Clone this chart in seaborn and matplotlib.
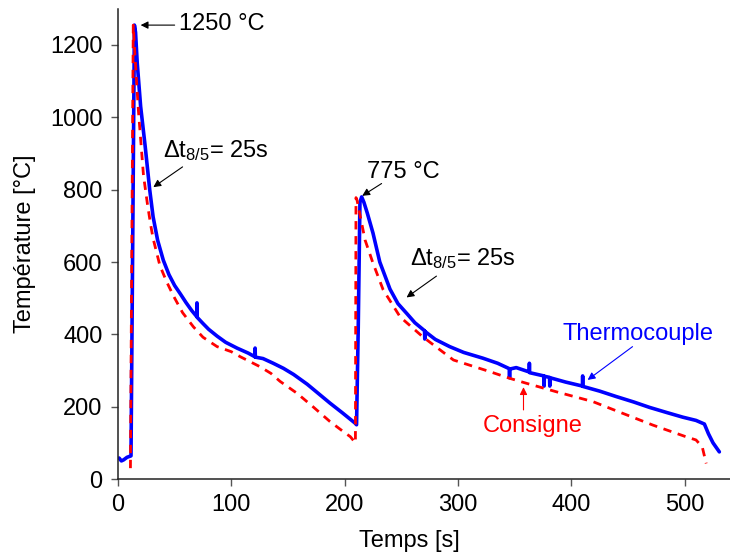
import matplotlib
matplotlib.use("Agg")
import matplotlib.pyplot as plt
import seaborn as sns
import pandas as pd

# ---- data ----
tc_time = [1, 3, 5, 8, 11.5, 13, 14.5, 15.5, 17, 20, 24, 28, 31, 35, 40, 45, 50, 55, 60, 65,
           69.5, 69.7, 69.9, 75, 80, 87.5, 95, 105, 115, 120.8, 121, 121.2, 128, 137, 146, 155,
           167, 177, 187, 198, 209, 210.5, 212, 213.5, 215, 217, 220, 225, 231, 240, 247, 255,
           262, 270.5, 270.7, 270.9, 280, 292.7, 305, 322, 335, 345.3, 345.5, 345.7, 351.4,
           362.8, 363, 363.2, 375.8, 376, 376.2, 380.8, 381, 381.2, 395, 409.8, 410, 410.2,
           425, 439.6, 455, 469, 484, 498.3, 510, 517.4, 521, 525, 530.6]
tc_temp = [58, 50, 53, 60, 64, 650, 1255, 1235, 1150, 1030, 920, 800, 725, 660, 605, 565, 535, 512, 488, 466,
           449, 487, 447, 430, 414, 395, 378, 362, 348, 338, 362, 337, 333, 320, 306, 289,
           262, 236, 210, 183, 155, 150, 420, 765, 780, 765, 735, 680, 600, 525, 485, 457,
           432, 410, 387, 408, 386, 366, 350, 334, 320, 305, 280, 304, 308,
           296, 320, 294, 285, 257, 284, 281, 257, 280, 268, 257, 285, 256,
           243, 228, 213, 198, 184, 171, 162, 152, 125, 100, 75]

cons_time = [11, 12.2, 13.5, 15, 18, 22.5, 26, 29, 31, 37, 43, 49, 57, 66.5, 75, 87.5, 100, 108,
             125, 135, 143, 158, 172, 187, 198, 205, 209.5, 210, 211, 218, 225, 234, 249, 269,
             296, 328, 345, 360, 387, 419, 445, 472, 501, 510, 515.5, 519]
cons_temp = [30, 640, 1255, 1170, 1020, 840, 760, 700, 665, 590, 545, 506, 460, 421, 392, 366, 352, 338,
             311, 292, 270, 237, 200, 159, 133, 117, 100, 778, 770, 661, 597, 523, 448, 393,
             329, 297, 279, 265, 241, 214, 182, 149, 117, 108, 89, 43]

x_ticks = [0, 100, 200, 300, 400, 500]
y_ticks = [0, 200, 400, 600, 800, 1000, 1200]

df_tc = pd.DataFrame({"t": tc_time, "T": tc_temp})
df_cons = pd.DataFrame({"t": cons_time, "T": cons_temp})

# ---- style ----
sns.set_style("ticks")
plt.rcParams["font.family"] = ["Liberation Sans", "DejaVu Sans"]
plt.rcParams["mathtext.default"] = "regular"
plt.rcParams["text.color"] = "black"
plt.rcParams["axes.labelcolor"] = "black"
plt.rcParams["xtick.color"] = "black"
plt.rcParams["ytick.color"] = "black"
FS = 17

fig = plt.figure(figsize=(7.30, 5.59), dpi=100)
ax = fig.add_axes([0.1616, 0.1431, 0.8384, 0.8411])

sns.lineplot(data=df_tc, x="t", y="T", ax=ax, color="#0000FF", lw=2.6,
             estimator=None, sort=False)
sns.lineplot(data=df_cons, x="t", y="T", ax=ax, color="#FF0000", lw=2.0,
             estimator=None, sort=False, linestyle=(0, (3, 2.4)))

ax.set_xlim(0, 540)
ax.set_ylim(0, 1300)
ax.set_xticks(x_ticks)
ax.set_yticks(y_ticks)
ax.tick_params(axis="both", labelsize=FS, length=5, width=1.0, color="#555555",
               labelcolor="black", direction="out", pad=6)
for s in ["top", "right"]:
    ax.spines[s].set_visible(False)
for s in ["left", "bottom"]:
    ax.spines[s].set_linewidth(1.1)
    ax.spines[s].set_color("#222222")

ax.set_xlabel("Temps [s]", fontsize=FS, color="black")
ax.set_ylabel("Température [°C]", fontsize=FS, color="black")
ax.xaxis.set_label_coords(0.476, -0.108)
ax.yaxis.set_label_coords(-0.134, 0.5)

arrow_k = dict(arrowstyle="-|>", lw=0.8, mutation_scale=11, shrinkA=0, shrinkB=0)

def arrow(tail, head, color="black"):
    ax.annotate("", xy=head, xytext=tail,
                arrowprops=dict(arrow_k, color=color))

# annotations
ax.text(53.5, 1241, "1250 °C", fontsize=FS, ha="left", va="baseline", color="black")
arrow((50, 1255), (20, 1255))

ax.text(40, 890, "Δt$_{8/5}$= 25s", fontsize=FS, ha="left", va="baseline", color="black")
arrow((57, 863), (31.2, 807))

ax.text(219.4, 831, "775 °C", fontsize=FS, ha="left", va="baseline", color="black")
arrow((232.6, 817), (215.5, 783))

ax.text(257.5, 592, "Δt$_{8/5}$= 25s", fontsize=FS, ha="left", va="baseline", color="black")
arrow((281, 561), (254.6, 502))

ax.text(392.4, 384, "Thermocouple", fontsize=FS, ha="left", va="baseline", color="#0000FF")
arrow((454, 366), (414.4, 274), color="#0000FF")

ax.text(322, 131, "Consigne", fontsize=FS, ha="left", va="baseline", color="#FF0000")
arrow((357.8, 191), (357.8, 254), color="#FF0000")

fig.savefig("out.png", dpi=100)
